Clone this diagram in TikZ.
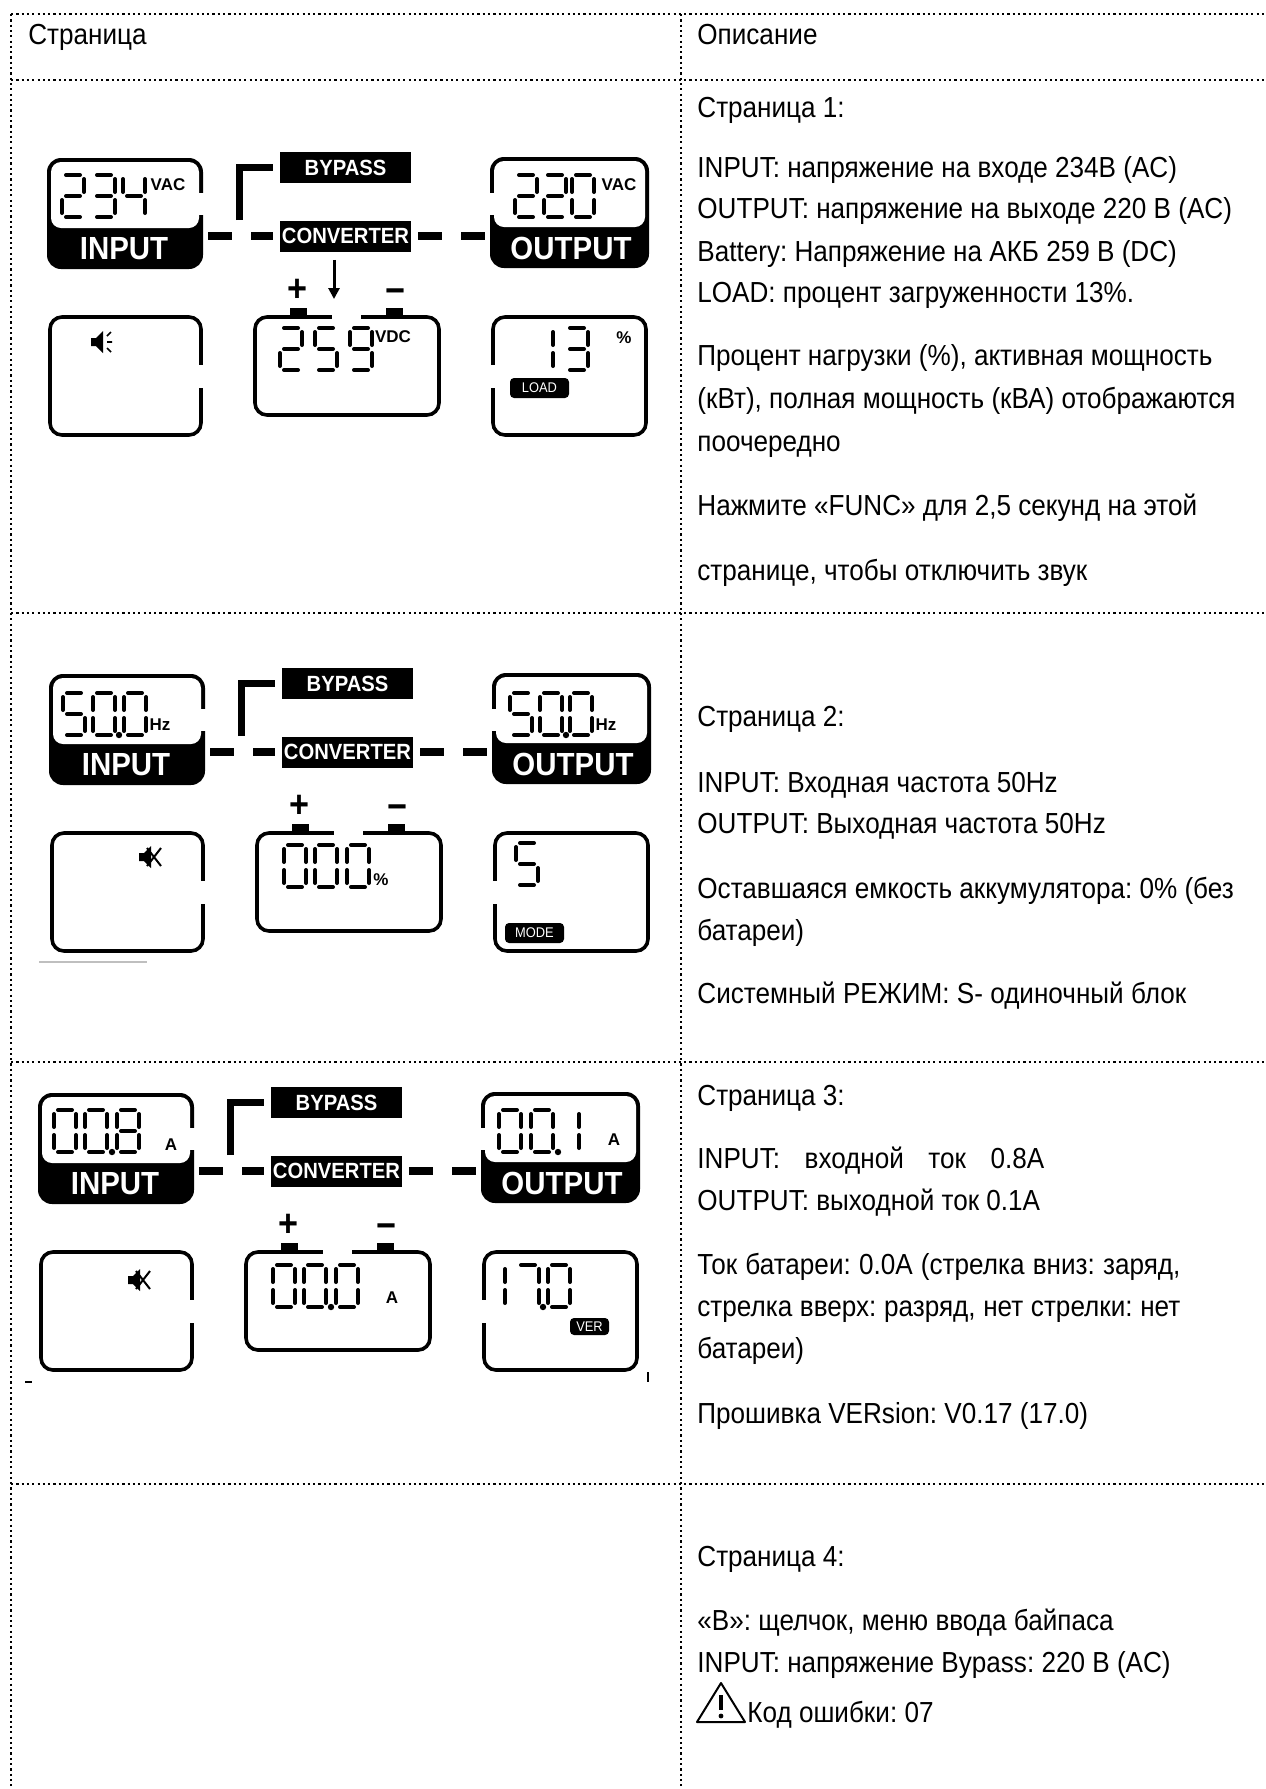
\documentclass[tikz,border=0pt]{standalone}
\usepackage{fontspec}
\setmainfont{Liberation Sans}[FakeStretch=0.9]
\newfontfamily\lcdfont{Liberation Sans}[FakeStretch=0.92]
\newfontfamily\unitfont{Liberation Sans}
\usetikzlibrary{arrows.meta}
\frenchspacing

\tikzset{
  table rule/.style={line width=1pt, dash pattern=on 1.1pt off 1.55pt},
  desc/.style={anchor=base west, inner sep=0pt, font=\fontsize{14.5}{17}\selectfont},
  lcdbox/.style={draw, line width=1.8pt, rounded corners=6pt},
  lcdword/.style={text=white, inner sep=0pt, font=\lcdfont\bfseries\fontsize{16}{16}\selectfont},
  lcdlabel/.style={fill=black, text=white, inner sep=0pt, minimum width=65.5pt,
    minimum height=15.5pt, font=\lcdfont\bfseries\fontsize{11}{11}\selectfont},
  lcdtag/.style={fill=black, text=white, rounded corners=2pt, inner sep=0pt,
    minimum width=29.5pt, minimum height=10pt, font=\lcdfont\fontsize{7}{7}\selectfont},
  unit/.style={inner sep=0pt, font=\unitfont\bfseries\fontsize{8.5}{8.5}\selectfont},
  sign/.style={inner sep=0pt, font=\bfseries\fontsize{19}{19}\selectfont},
  seg/.style={line width=2pt, line cap=round},
  link/.style={line width=4pt, dash pattern=on 12pt off 9.5pt},
  bracket/.style={line width=3.6pt},
  charge/.style={line width=1.5pt, -{Triangle[length=5.5pt,width=5.5pt]}},
  % seven segment digit, cell 22 x 42
  lcdseg/a/.style={insert path={(4,0) -- (18,0)}},
  lcdseg/b/.style={insert path={(22,4) -- (22,17)}},
  lcdseg/c/.style={insert path={(22,25) -- (22,38)}},
  lcdseg/d/.style={insert path={(4,42) -- (18,42)}},
  lcdseg/e/.style={insert path={(0,25) -- (0,38)}},
  lcdseg/f/.style={insert path={(0,4) -- (0,17)}},
  lcdseg/g/.style={insert path={(4,21) -- (18,21)}},
  digit/0/.style={lcdseg/a,lcdseg/b,lcdseg/c,lcdseg/d,lcdseg/e,lcdseg/f},
  digit/1/.style={lcdseg/e,lcdseg/f},
  digit/2/.style={lcdseg/a,lcdseg/b,lcdseg/g,lcdseg/e,lcdseg/d},
  digit/3/.style={lcdseg/a,lcdseg/b,lcdseg/g,lcdseg/c,lcdseg/d},
  digit/4/.style={lcdseg/f,lcdseg/g,lcdseg/b,lcdseg/c},
  digit/5/.style={lcdseg/a,lcdseg/f,lcdseg/g,lcdseg/c,lcdseg/d},
  digit/7/.style={lcdseg/a,lcdseg/b,lcdseg/c},
  digit/8/.style={lcdseg/a,lcdseg/b,lcdseg/c,lcdseg/d,lcdseg/e,lcdseg/f,lcdseg/g},
  digit/9/.style={lcdseg/a,lcdseg/b,lcdseg/c,lcdseg/d,lcdseg/f,lcdseg/g},
}

\newcommand\lcddigit[3]{\begin{scope}[shift={(#1,#2)}]\draw[seg,digit/#3];\end{scope}}
\newcommand\lcddot[2]{\fill (#1,#2) circle (1.6pt);}
% speaker icon: x, y, muted (0/1)
\newcommand\lcdspeaker[3]{%
  \begin{scope}[shift={(#1,#2)}]
    \fill (0,8) -- (5,8) -- (12,1) -- (12,23) -- (5,16) -- (0,16) -- cycle;
    \ifnum#3=0
      \draw[line width=0.8pt] (16,6) -- (20,2) (16,12) -- (21,12) (16,18) -- (20,22);
    \else
      \draw[line width=1pt] (8,3) -- (22,21) (8,21) -- (22,3);
    \fi
  \end{scope}}
% common part of one display page
\newcommand\lcdframe{%
  % input
  \fill[rounded corners=7pt] (47,158) rectangle (203,269);
  \fill[white, rounded corners=5pt] (51,162) rectangle (199,228);
  \fill[white] (198,193) rectangle (205,215);
  \node[lcdword] (in) at (124,249) {INPUT};
  \coordinate (inR) at (203,236);
  % output
  \fill[rounded corners=7pt] (490,157) rectangle (649,268);
  \fill[white, rounded corners=5pt] (494,161) rectangle (645,227);
  \fill[white] (488,193) rectangle (495,215);
  \node[lcdword] (out) at (571,248) {OUTPUT};
  \coordinate (outL) at (490,236);
  % paths
  \node[lcdlabel] (bypass) at (345.5,167.5) {BYPASS};
  \node[lcdlabel] (conv) at (345.5,236) {CONVERTER};
  \draw[bracket] ([xshift=-20pt]conv.north west) |- ([xshift=-3.5pt]bypass.west);
  \draw[link] ([xshift=2.5pt]inR) -- ([xshift=-3.5pt]conv.west);
  \draw[link] ([xshift=3.5pt]conv.east) -- ([xshift=-2.5pt]outL);
  % battery
  \draw[lcdbox] (255,317) rectangle (439,415);
  \fill[white] (332,311) rectangle (361,321);
  \fill (290,308) rectangle (307,317);
  \fill (386,308) rectangle (403,317);
  \node[sign] (plus) at (297,290) {+};
  \node[sign] (minus) at (395,296) {−};
  % side windows
  \draw[lcdbox] (50,317) rectangle (201,435);
  \fill[white] (197,365) rectangle (205,388);
  \draw[lcdbox] (493,317) rectangle (646,435);
  \fill[white] (489,365) rectangle (497,388);
}

\begin{document}
\begin{tikzpicture}[x=0.5pt,y=-0.5pt]
  \useasboundingbox (0,0) rectangle (1265,1789);
  \fill[white] (0,0) rectangle (1265,1789);

  % table
  \foreach \y in {14,80,613,1062,1484}
    \draw[table rule] (11,\y) -- (1265,\y);
  \foreach \x in {11,681}
    \draw[table rule] (\x,14) -- (\x,1789);

  \node[desc] (hpage) at (28,44) {Страница};
  \node[desc] (hdesc) at (697,44) {Описание};

  % page 1
  \begin{scope}[name prefix=p1-]
    \lcdframe
    \lcddigit{62}{175}{2} \lcddigit{93}{175}{3} \lcddigit{123}{175}{4}
    \node[unit] (vin) at (168,185) {VAC};
    \lcddigit{515}{175}{2} \lcddigit{544}{175}{2} \lcddigit{572}{175}{0}
    \node[unit] (vout) at (619,185) {VAC};
    \coordinate (chg) at (334,299);
    \draw[charge] ([xshift=-5.75pt,yshift=-4pt]conv.south) -- (chg);
    \lcddigit{280}{328}{2} \lcddigit{315}{328}{5} \lcddigit{350}{328}{9}
    \node[unit] (vbat) at (393,337) {VDC};
    \lcdspeaker{91}{330}{0}
    \lcddigit{553}{328}{1} \lcddigit{566}{328}{3}
    \node[unit] (pct) at (624,338) {\%};
    \node[lcdtag] (load) at (539.5,388) {LOAD};
  \end{scope}

  \node[desc] (p1t0) at (697,117) {Страница 1:};
  \node[desc] (p1t1) at (697,177) {INPUT: напряжение на входе 234В (AC)};
  \node[desc] (p1t2) at (697,218) {OUTPUT: напряжение на выходе 220 В (AC)};
  \node[desc] (p1t3) at (697,261) {Battery: Напряжение на АКБ 259 В (DC)};
  \node[desc] (p1t4) at (697,302) {LOAD: процент загруженности 13\%.};
  \node[desc] (p1t5) at (697,365) {Процент нагрузки (\%), активная мощность};
  \node[desc] (p1t6) at (697,408) {(кВт), полная мощность (кВА) отображаются};
  \node[desc] (p1t7) at (697,451) {поочередно};
  \node[desc] (p1t8) at (697,515) {Нажмите «FUNC» для 2,5 секунд на этой};
  \node[desc] (p1t9) at (697,580) {странице, чтобы отключить звук};

  % page 2
  \begin{scope}[shift={(2,516)}, name prefix=p2-]
    \lcdframe
    \lcddigit{61}{177}{5} \lcddigit{91}{177}{0} \lcddot{117}{219} \lcddigit{122}{177}{0}
    \node[unit] (fin) at (158,209) {Hz};
    \lcddigit{508}{177}{5} \lcddigit{538}{177}{0} \lcddot{564}{219} \lcddigit{568}{177}{0}
    \node[unit] (fout) at (604,209) {Hz};
    \lcddigit{282}{329}{0} \lcddigit{313}{329}{0} \lcddigit{345}{329}{0}
    \node[unit] (cap) at (379,364) {\%};
    \lcdspeaker{137}{329}{1}
    \lcddigit{514}{327}{5}
    \node[lcdtag] (mode) at (532.5,417) {MODE};
  \end{scope}
  \draw[gray!50, line width=1pt] (39,962) -- (147,962);

  \node[desc] (p2t0) at (697,726) {Страница 2:};
  \node[desc] (p2t1) at (697,792) {INPUT: Входная частота 50Hz};
  \node[desc] (p2t2) at (697,833) {OUTPUT: Выходная частота 50Hz};
  \node[desc] (p2t3) at (697,898) {Оставшаяся емкость аккумулятора: 0\% (без};
  \node[desc] (p2t4) at (697,940) {батареи)};
  \node[desc] (p2t5) at (697,1003) {Системный РЕЖИМ: S- одиночный блок};

  % page 3
  \begin{scope}[shift={(-9,935)}, name prefix=p3-]
    \lcdframe
    \lcddigit{63}{175}{0} \lcddigit{94}{175}{0} \lcddot{121}{217} \lcddigit{126}{175}{8}
    \node[unit] (iin) at (180,210) {A};
    \lcddigit{508}{175}{0} \lcddigit{540}{175}{0} \lcddot{567}{217} \lcddigit{588}{175}{1}
    \node[unit] (iout) at (623,205) {A};
    \lcddigit{282}{330}{0} \lcddigit{313}{330}{0} \lcddot{340}{372} \lcddigit{345}{330}{0}
    \node[unit] (ibat) at (401,363) {A};
    \lcdspeaker{137}{333}{1}
    \lcddigit{514}{330}{1} \lcddigit{526}{330}{7} \lcddot{552}{372} \lcddigit{557}{330}{0}
    \node[lcdtag, minimum width=19.5pt, minimum height=8.5pt] (ver) at (598.5,391.5) {VER};
  \end{scope}
  \draw[line width=1pt] (25,1382) -- (32,1382);
  \draw[line width=0.8pt] (648,1372) -- (648,1382);

  \node[desc] (p3t0) at (697,1105) {Страница 3:};
  \node[desc] (p3t1) at (697,1168) {\makebox[173.5pt][s]{INPUT: входной ток 0.8A}};
  \node[desc] (p3t2) at (697,1210) {OUTPUT: выходной ток 0.1A};
  \node[desc] (p3t3) at (697,1274) {\makebox[241.5pt][s]{Ток батареи: 0.0A (стрелка вниз: заряд,}};
  \node[desc] (p3t4) at (697,1316) {\makebox[241.5pt][s]{стрелка вверх: разряд, нет стрелки: нет}};
  \node[desc] (p3t5) at (697,1358) {батареи)};
  \node[desc] (p3t6) at (697,1423) {Прошивка VERsion: V0.17 (17.0)};

  % page 4
  \node[desc] (p4t0) at (697,1566) {Страница 4:};
  \node[desc] (p4t1) at (697,1630) {«В»: щелчок, меню ввода байпаса};
  \node[desc] (p4t2) at (697,1672) {INPUT: напряжение Bypass: 220 В (AC)};
  \draw[line width=1pt, line join=round] (697,1722) -- (745,1722) -- (721,1683) -- cycle;
  \draw[line width=1.6pt] (721,1695) -- (721,1710);
  \fill (721,1716) circle (1.2pt);
  \node[desc] (p4t3) at (747,1722) {Код ошибки: 07};
\end{tikzpicture}
\end{document}
